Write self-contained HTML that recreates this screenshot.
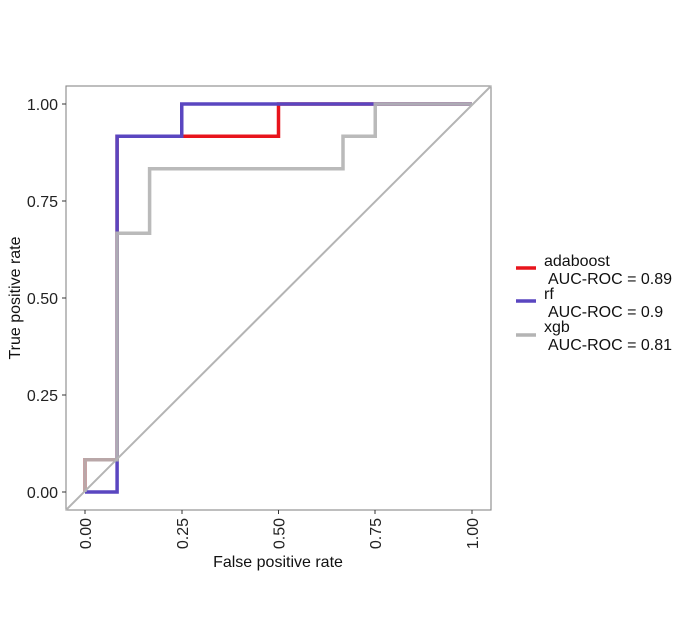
<!DOCTYPE html><html><head><style>body{margin:0;background:#fff}</style></head><body>
<svg width="693" height="633" xmlns="http://www.w3.org/2000/svg" font-family="Liberation Sans, Arial, sans-serif">
<rect x="66" y="86" width="425" height="424" fill="#fff" stroke="#888" stroke-width="1.1"/>
<g stroke="#333" stroke-width="1">
<line x1="62" x2="66" y1="492" y2="492"/><line x1="62" x2="66" y1="395" y2="395"/><line x1="62" x2="66" y1="298" y2="298"/><line x1="62" x2="66" y1="201" y2="201"/><line x1="62" x2="66" y1="104" y2="104"/>
<line y1="510" y2="514" x1="85" x2="85"/><line y1="510" y2="514" x1="182" x2="182"/><line y1="510" y2="514" x1="278.5" x2="278.5"/><line y1="510" y2="514" x1="375" x2="375"/><line y1="510" y2="514" x1="472" x2="472"/>
</g>
<g font-size="16" fill="#222" text-anchor="end">
<text x="58" y="498">0.00</text><text x="58" y="401">0.25</text><text x="58" y="304">0.50</text><text x="58" y="207">0.75</text><text x="58" y="110">1.00</text>
</g>
<g font-size="16" fill="#222" text-anchor="end">
<text transform="translate(91,518) rotate(-90)">0.00</text>
<text transform="translate(188,518) rotate(-90)">0.25</text>
<text transform="translate(284.5,518) rotate(-90)">0.50</text>
<text transform="translate(381,518) rotate(-90)">0.75</text>
<text transform="translate(478,518) rotate(-90)">1.00</text>
</g>
<text x="278" y="567" font-size="16" text-anchor="middle" fill="#111">False positive rate</text>
<text transform="translate(20,298) rotate(-90)" font-size="16" text-anchor="middle" fill="#111">True positive rate</text>
<g fill="none" stroke-width="3.5" stroke-linejoin="miter">
<polyline stroke="#e8141c" points="85,492 85,459.8 117.1,459.8 117.1,136.2 278.5,136.2 278.5,104 472,104"/>
<polyline stroke="#5a46c0" points="85,492 117.1,492 117.1,136.2 181.75,136.2 181.75,104 472,104"/>
<polyline stroke="#b4b4b4" stroke-opacity="0.92" points="85,492 85,459.8 117.1,459.8 117.1,233.2 149.6,233.2 149.6,168.8 343,168.8 343,136.2 375.25,136.2 375.25,104 472,104"/>
</g>
<line x1="66" y1="510" x2="491" y2="86" stroke="#b4b4b4" stroke-width="2"/>
<g stroke-width="3.5">
<line x1="516" x2="536" y1="268" y2="268" stroke="#e8141c"/>
<line x1="516" x2="536" y1="301" y2="301" stroke="#5a46c0"/>
<line x1="516" x2="536" y1="335" y2="335" stroke="#b4b4b4"/>
</g>
<g font-size="16" fill="#111">
<text x="544" y="266">adaboost</text><text x="548" y="284">AUC-ROC = 0.89</text>
<text x="544" y="299">rf</text><text x="548" y="317">AUC-ROC = 0.9</text>
<text x="544" y="332">xgb</text><text x="548" y="350">AUC-ROC = 0.81</text>
</g>
</svg>
</body></html>
